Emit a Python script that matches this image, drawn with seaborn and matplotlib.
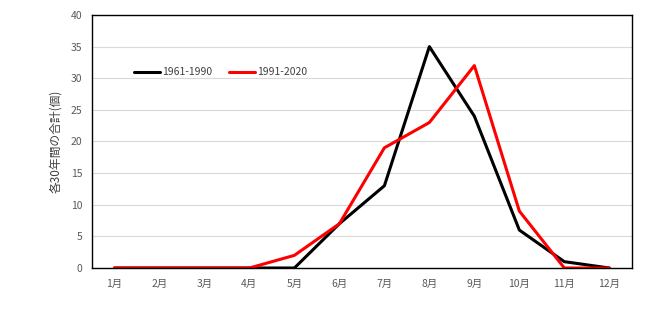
import matplotlib
matplotlib.use("Agg")
import matplotlib.pyplot as plt
import seaborn as sns
import pandas as pd

months = ["1月", "2月", "3月", "4月", "5月", "6月", "7月", "8月", "9月", "10月", "11月", "12月"]
s1961 = [0, 0, 0, 0, 0, 7, 13, 35, 24, 6, 1, 0]
s1991 = [0, 0, 0, 0, 2, 7, 19, 23, 32, 9, 0, 0]
series_names = ["1961-1990", "1991-2020"]
yticks = [0, 5, 10, 15, 20, 25, 30, 35, 40]

sns.set_style("white")
plt.rcParams['font.family'] = ['Noto Sans CJK JP', 'DejaVu Sans']

df = pd.DataFrame({
    "x": list(range(12)) * 2,
    "y": s1961 + s1991,
    "series": [series_names[0]] * 12 + [series_names[1]] * 12,
})

fig = plt.figure(figsize=(6.5, 3.09), dpi=100)
ax = fig.add_axes([0.1415, 0.1327, 0.8305, 0.8188])
sns.lineplot(data=df, x="x", y="y", hue="series",
             palette={series_names[0]: "#000000", series_names[1]: "#FF0000"},
             linewidth=2.2, ax=ax, legend=True)

ax.set_xlim(-0.5, 11.5)
ax.set_ylim(0, 40)
ax.set_yticks(yticks)
ax.set_xticks(range(12))
ax.set_xticklabels(months)
ax.yaxis.grid(True, color="#D9D9D9", linewidth=0.8)
ax.set_axisbelow(True)
for sp in ax.spines.values():
    sp.set_visible(True)
    sp.set_color("#000000")
    sp.set_linewidth(1.0)
ax.tick_params(axis="y", length=0, labelsize=7.5, colors="#595959", pad=7)
ax.tick_params(axis="x", length=0, labelsize=7.5, colors="#595959", pad=8)
ax.set_xlabel("")
ax.set_ylabel("各30年間の合計(個)", fontsize=8.5, color="#404040", labelpad=6)

leg = ax.legend(loc="upper left", bbox_to_anchor=(0.06, 0.83), ncol=2, frameon=False,
                fontsize=7.5, handlelength=2.5, handletextpad=0.2, columnspacing=1.6,
                labelcolor="#404040")

fig.savefig("out.png", dpi=100)
